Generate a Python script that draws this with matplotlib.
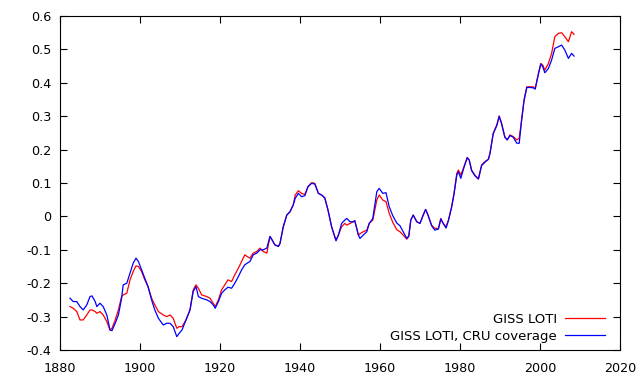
import matplotlib
matplotlib.use("Agg")
import matplotlib.pyplot as plt
from matplotlib.ticker import FormatStrFormatter

# smoothed temperature anomaly
years = [1882.5, 1883.3, 1884.2, 1885.0, 1885.8, 1886.7, 1887.5, 1888.0, 1888.8, 1889.2,
         1890.0, 1890.8, 1891.7, 1892.5, 1893.0, 1893.8, 1894.6, 1895.4, 1895.8, 1896.7,
         1897.5, 1898.3, 1899.0, 1899.6, 1900.4, 1901.2, 1902.0, 1902.9, 1903.7, 1904.6,
         1905.8, 1906.7, 1907.5, 1908.3, 1909.2, 1909.8, 1910.5, 1911.5, 1912.5, 1913.3,
         1914.0, 1914.6, 1915.4, 1916.7, 1917.5, 1918.3, 1918.8, 1919.6, 1920.4, 1921.2,
         1922.0, 1922.9, 1923.7, 1924.6, 1925.4, 1926.2, 1926.8, 1927.5, 1928.3, 1929.2,
         1930.0, 1930.8, 1931.7, 1932.5, 1933.0, 1933.7, 1934.6, 1935.0, 1935.8, 1936.7,
         1937.5, 1938.3, 1938.8, 1939.6, 1940.4, 1941.2, 1942.0, 1942.9, 1943.7, 1944.6,
         1945.4, 1946.2, 1947.0, 1947.9, 1949.0, 1949.6, 1950.4, 1951.2, 1951.7, 1952.5,
         1953.3, 1953.7, 1954.6, 1955.0, 1955.8, 1956.7, 1957.3, 1958.2, 1959.2, 1959.8,
         1960.7, 1961.5, 1962.3, 1963.2, 1964.2, 1965.0, 1965.8, 1966.7, 1967.2, 1967.7,
         1968.3, 1969.2, 1970.0, 1970.8, 1971.4, 1972.0, 1972.9, 1973.7, 1974.6, 1975.2,
         1975.8, 1976.5, 1977.1, 1977.9, 1978.5, 1979.2, 1979.6, 1980.2, 1981.0, 1981.8,
         1982.3, 1982.9, 1983.7, 1984.6, 1985.4, 1986.2, 1987.1, 1987.5, 1988.3, 1989.2,
         1989.8, 1990.4, 1990.8, 1991.2, 1991.8, 1992.5, 1993.3, 1994.2, 1994.8, 1995.4,
         1996.0, 1996.7, 1997.5, 1998.3, 1998.8, 1999.6, 2000.2, 2000.7, 2001.2, 2002.1,
         2002.9, 2003.7, 2004.6, 2005.4, 2006.2, 2007.1, 2007.9, 2008.5]

giss = [-0.270, -0.275, -0.285, -0.310, -0.310, -0.295, -0.280, -0.280, -0.285, -0.290,
        -0.285, -0.295, -0.315, -0.340, -0.335, -0.310, -0.280, -0.240, -0.235, -0.230,
        -0.190, -0.165, -0.148, -0.150, -0.165, -0.190, -0.210, -0.245, -0.265, -0.285,
        -0.295, -0.300, -0.295, -0.305, -0.335, -0.330, -0.330, -0.310, -0.280, -0.220,
        -0.205, -0.215, -0.235, -0.240, -0.245, -0.260, -0.270, -0.250, -0.220, -0.205,
        -0.190, -0.195, -0.175, -0.155, -0.135, -0.115, -0.120, -0.125, -0.110, -0.105,
        -0.095, -0.105, -0.110, -0.060, -0.070, -0.085, -0.090, -0.081, -0.033, 0.004,
        0.014, 0.034, 0.064, 0.077, 0.069, 0.066, 0.089, 0.101, 0.099, 0.069,
        0.064, 0.054, 0.019, -0.031, -0.071, -0.056, -0.031, -0.021, -0.026, -0.021,
        -0.016, -0.013, -0.056, -0.052, -0.046, -0.041, -0.021, -0.011, 0.049, 0.064,
        0.049, 0.044, 0.009, -0.018, -0.040, -0.046, -0.056, -0.068, -0.060, -0.011,
        0.004, -0.016, -0.021, 0.004, 0.021, 0.004, -0.026, -0.036, -0.036, -0.006,
        -0.021, -0.031, -0.011, 0.029, 0.069, 0.129, 0.139, 0.124, 0.149, 0.177,
        0.169, 0.139, 0.124, 0.112, 0.154, 0.164, 0.171, 0.189, 0.249, 0.274,
        0.301, 0.279, 0.259, 0.239, 0.229, 0.244, 0.239, 0.229, 0.234, 0.289,
        0.348, 0.388, 0.388, 0.388, 0.383, 0.428, 0.458, 0.453, 0.438, 0.458,
        0.488, 0.538, 0.548, 0.550, 0.538, 0.523, 0.553, 0.545]

giss_cru = [-0.245, -0.255, -0.255, -0.270, -0.280, -0.265, -0.240, -0.238, -0.255, -0.270,
            -0.260, -0.270, -0.295, -0.340, -0.342, -0.320, -0.295, -0.245, -0.205, -0.200,
            -0.170, -0.140, -0.125, -0.135, -0.160, -0.185, -0.210, -0.250, -0.280, -0.305,
            -0.325, -0.320, -0.320, -0.330, -0.360, -0.350, -0.340, -0.310, -0.280, -0.225,
            -0.210, -0.240, -0.245, -0.250, -0.255, -0.265, -0.275, -0.255, -0.230, -0.220,
            -0.212, -0.215, -0.200, -0.180, -0.160, -0.145, -0.140, -0.135, -0.115, -0.110,
            -0.100, -0.100, -0.095, -0.060, -0.070, -0.085, -0.090, -0.081, -0.031, 0.004,
            0.014, 0.034, 0.054, 0.069, 0.059, 0.062, 0.089, 0.099, 0.097, 0.069,
            0.064, 0.056, 0.019, -0.031, -0.073, -0.056, -0.021, -0.011, -0.006, -0.016,
            -0.016, -0.013, -0.056, -0.066, -0.056, -0.046, -0.021, -0.006, 0.074, 0.084,
            0.069, 0.071, 0.029, 0.002, -0.020, -0.028, -0.046, -0.066, -0.058, -0.011,
            0.004, -0.016, -0.021, 0.004, 0.021, 0.004, -0.028, -0.041, -0.038, -0.008,
            -0.021, -0.035, -0.013, 0.027, 0.066, 0.124, 0.134, 0.114, 0.147, 0.175,
            0.169, 0.137, 0.122, 0.112, 0.152, 0.162, 0.171, 0.189, 0.247, 0.272,
            0.299, 0.277, 0.257, 0.237, 0.229, 0.242, 0.237, 0.219, 0.219, 0.287,
            0.346, 0.386, 0.386, 0.385, 0.381, 0.426, 0.456, 0.448, 0.430, 0.443,
            0.468, 0.503, 0.508, 0.513, 0.498, 0.473, 0.488, 0.480]

plt.rcParams['axes.unicode_minus'] = False
plt.rcParams['font.family'] = 'DejaVu Sans'

fig = plt.figure(figsize=(6.4, 3.84), dpi=100)
ax = fig.add_axes([60 / 640, 34 / 384, 560 / 640, 334 / 384])

ax.plot(years, giss, color='#ff0000', lw=0.9, label='GISS LOTI')
ax.plot(years, giss_cru, color='#0000ff', lw=0.9, label='GISS LOTI, CRU coverage')

ax.set_xlim(1880, 2020)
ax.set_ylim(-0.4, 0.6)
ax.set_xticks(range(1880, 2021, 20))
ax.set_yticks([-0.4, -0.3, -0.2, -0.1, 0, 0.1, 0.2, 0.3, 0.4, 0.5, 0.6])
ax.yaxis.set_major_formatter(FormatStrFormatter('%g'))
ax.tick_params(direction='in', length=5, width=0.8, top=True, right=True, labelsize=9.2)
ax.tick_params(axis='x', pad=8.5)
ax.tick_params(axis='y', pad=6)
for s in ax.spines.values():
    s.set_linewidth(0.8)

ax.legend(loc='lower right', bbox_to_anchor=(0.9827, 0.006), frameon=False,
          markerfirst=False, fontsize=9.5, handlelength=3.0, borderaxespad=0,
          labelspacing=0.3, handletextpad=0.63)

fig.savefig('out.png', dpi=100)
